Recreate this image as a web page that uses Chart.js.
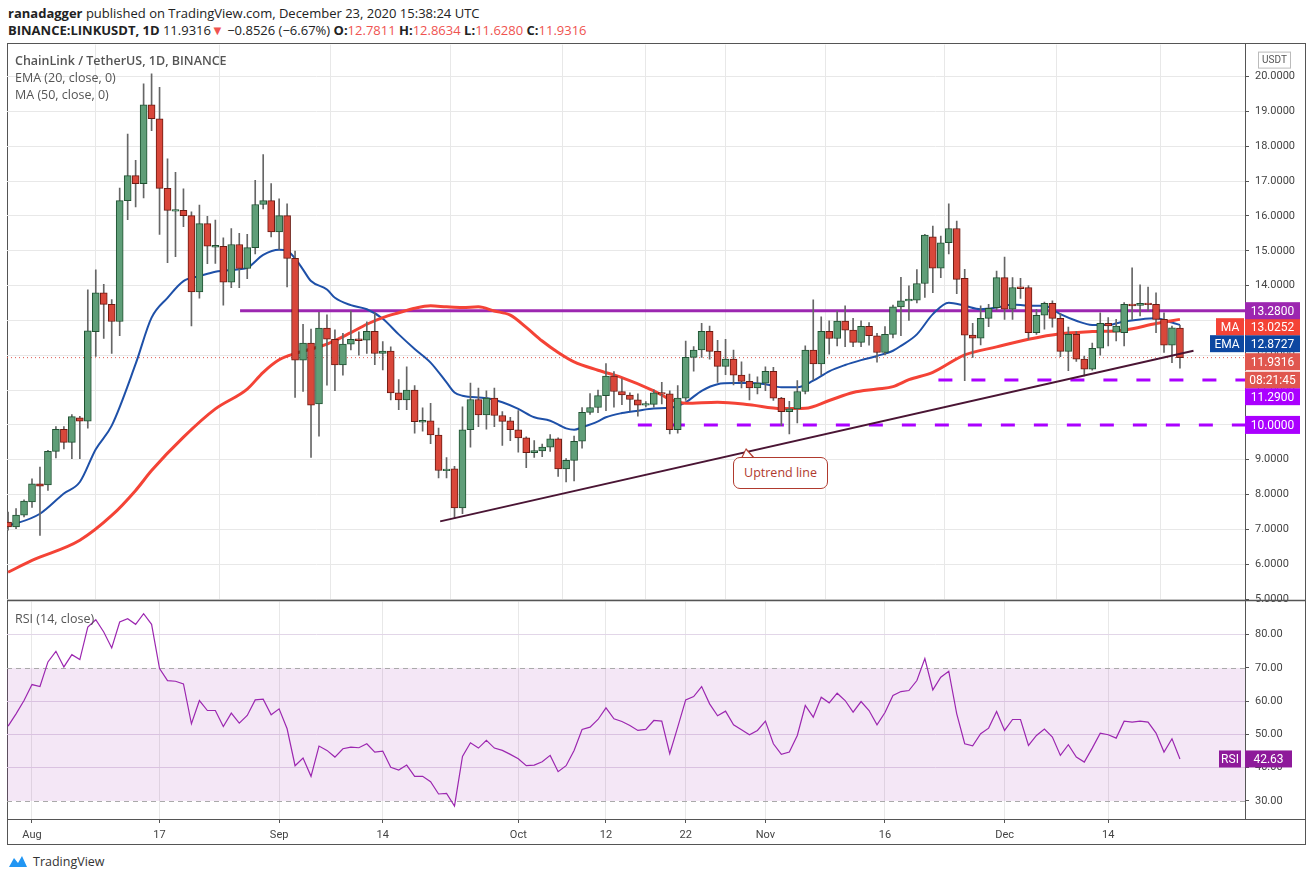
<!DOCTYPE html>
<html>
<head>
<meta charset="utf-8">
<script src="https://cdn.jsdelivr.net/npm/chart.js@4.4.0/dist/chart.umd.min.js"></script>
<style>
  body { margin:0; background:#fff; font-family:"Open Sans", Arial, sans-serif; width:1311px; height:881px; position:relative; overflow:hidden; }
  .hdr1 { position:absolute; left:8px; top:4px; font-size:13px; color:#222; }
  .hdr2 { position:absolute; left:8px; top:21px; font-size:13px; color:#222; }
  .red { color:#ef5350; }
  .frame { position:absolute; left:7px; top:43px; width:1297px; height:800px; border:1px solid #555; box-sizing:content-box; }
  canvas { position:absolute; }
  .leg { position:absolute; left:15px; font-size:12.5px; color:#555; }
  .callout { position:absolute; left:733px; top:457px; width:93px; height:30px; border:1px solid #b03a2e; border-radius:7px; color:#b03a2e; font-size:12.5px; text-align:center; line-height:30px; background:#fff; }
  .notch { position:absolute; left:741px; top:448px; width:0; height:0; border-left:5px solid transparent; border-right:9px solid transparent; border-bottom:10px solid #b03a2e; }
  .notch2 { position:absolute; left:742px; top:450px; width:0; height:0; border-left:4px solid transparent; border-right:8px solid transparent; border-bottom:9px solid #fff; }
  .tv { position:absolute; left:33px; top:853px; font-size:12.5px; color:#333; }
  .tvicon { position:absolute; left:8px; top:854px; width:20px; height:14px; }
</style>
</head>
<body>
<div class="hdr1"><b>ranadagger</b> published on TradingView.com, December 23, 2020 15:38:24 UTC</div>
<div class="hdr2"><b>BINANCE:LINKUSDT, 1D</b> 11.9316<span class="red">&#9660;</span> &minus;0.8526 (&minus;6.67%) <b>O:</b><span class="red">12.7811</span> <b>H:</b><span class="red">12.8634</span> <b>L:</b><span class="red">11.6280</span> <b>C:</b><span class="red">11.9316</span></div>
<div class="frame"></div>
<canvas id="price" width="1298" height="580" style="left:7px;top:32px"></canvas>
<canvas id="rsi" width="1298" height="255" style="left:7px;top:589px"></canvas>
<div class="leg" style="top:52px;font-weight:600">ChainLink / TetherUS, 1D, BINANCE</div>
<div class="leg" style="top:69px">EMA (20, close, 0)</div>
<div class="leg" style="top:86px">MA (50, close, 0)</div>
<div class="leg" style="top:610px">RSI (14, close)</div>
<div class="notch"></div><div class="notch2"></div>
<div class="callout">Uptrend line</div>
<svg class="tvicon" viewBox="0 0 20 14"><path d="M1 13 L6 4 L10 9 L14 2 L19 13 Z" fill="#2196f3"/></svg>
<div class="tv">TradingView</div>
<script>
// ---- Data (days counted from Aug 1, 2020) ----
const firstDay = -3;
const openP = [7.21,7.07,7.41,7.79,8.31,8.28,9.24,9.87,9.50,10.20,10.11,12.68,13.79,13.46,12.97,16.44,17.16,16.93,19.19,18.79,16.79,16.16,16.16,16.01,13.82,15.78,15.13,15.13,14.10,15.18,14.49,15.09,16.33,16.44,15.54,16.01,14.78,11.86,12.35,10.60,12.78,12.46,11.72,12.32,12.46,12.43,12.69,12.05,12.12,10.92,10.72,11.00,10.10,10.12,9.71,8.71,8.74,7.62,9.86,10.73,10.29,10.77,10.27,10.12,9.86,9.63,9.20,9.25,9.36,9.60,8.74,8.98,9.53,10.36,10.50,10.84,11.40,10.96,10.86,10.72,10.59,10.59,10.92,10.89,9.86,10.77,11.94,12.15,12.69,12.11,11.68,11.89,11.43,11.25,11.06,11.20,11.54,10.77,10.38,10.46,10.96,12.15,11.75,12.69,12.48,12.98,12.72,12.37,12.83,12.56,12.08,12.60,13.39,13.56,13.58,14.06,15.40,14.50,15.23,15.64,14.21,12.58,12.49,13.06,13.37,14.23,13.32,13.95,13.94,12.65,13.15,13.49,13.06,12.11,12.60,11.89,11.60,12.20,12.92,12.66,12.65,13.46,13.43,13.49,13.46,13.03,12.29,12.78];
const highP = [7.50,7.60,7.85,8.45,8.79,9.27,9.95,9.95,10.30,10.25,13.88,14.45,14.04,13.60,16.80,18.35,17.60,19.79,20.08,19.69,17.64,17.25,16.78,16.12,16.31,15.99,15.88,15.37,15.64,15.50,15.47,17.02,17.76,16.93,16.49,16.35,14.99,12.89,12.75,13.23,13.16,12.73,12.63,13.27,12.67,12.96,13.22,12.39,12.24,11.30,11.67,11.13,10.49,10.62,9.91,9.06,8.81,10.52,11.20,11.06,10.98,11.06,10.38,10.22,10.41,9.66,9.55,9.45,9.72,9.63,9.03,9.68,10.50,10.90,11.00,11.76,11.53,11.32,10.92,10.89,10.67,11.01,11.22,10.98,11.13,12.41,12.25,12.92,12.84,12.43,12.46,12.15,11.81,11.46,11.38,11.67,11.65,10.79,10.68,11.27,12.27,13.59,13.10,12.99,13.27,13.42,13.06,12.99,12.94,12.63,12.82,13.44,14.24,13.99,14.46,15.47,15.71,15.42,16.35,15.85,14.47,12.92,13.42,13.46,14.42,14.82,14.23,14.21,14.00,13.32,13.53,13.56,13.20,12.81,12.68,11.98,12.35,13.22,13.08,13.03,13.51,14.51,14.02,13.96,13.79,13.22,12.84,12.86];
const lowP = [6.98,7.02,7.36,7.63,6.83,8.12,9.05,9.31,9.03,9.03,9.91,11.97,12.48,12.05,12.56,15.89,16.26,16.52,18.45,15.47,14.66,14.83,15.69,12.84,13.64,14.63,14.64,13.44,13.94,13.94,14.20,14.91,16.20,15.40,15.04,13.96,10.79,10.96,9.07,9.68,11.14,10.98,11.43,12.15,12.00,12.05,11.73,11.58,10.72,10.44,10.44,9.76,9.82,9.46,8.48,8.48,7.31,7.45,9.36,9.95,9.88,9.95,9.41,9.55,9.22,8.77,9.07,9.09,9.24,8.52,8.36,8.39,9.33,10.30,10.35,10.41,10.51,10.58,10.41,10.25,10.52,10.51,10.60,9.74,9.76,10.70,11.54,11.94,11.89,11.22,11.44,11.15,11.06,10.72,10.89,10.98,10.70,9.98,9.74,10.06,10.89,11.29,11.44,12.03,12.27,12.25,12.25,12.25,12.29,11.80,12.01,12.50,12.56,13.00,13.50,13.66,13.80,14.23,14.91,13.77,11.27,11.94,12.30,12.82,13.30,13.03,13.03,13.63,12.46,12.60,12.75,12.81,11.96,11.56,11.82,11.41,11.57,12.00,12.27,12.41,12.27,13.03,13.13,13.27,12.65,12.08,11.79,11.63];
const closeP = [7.07,7.41,7.81,8.31,8.24,9.24,9.87,9.50,10.24,10.11,12.70,13.79,13.46,12.97,16.44,17.16,16.93,19.19,18.79,16.79,16.16,16.16,16.01,13.82,15.78,15.13,15.13,14.10,15.18,14.49,15.09,16.33,16.44,15.54,16.01,14.78,11.86,12.35,10.57,12.78,12.46,11.72,12.32,12.46,12.43,12.69,12.05,12.12,10.92,10.72,11.00,10.09,10.11,9.71,8.69,8.71,7.62,9.86,10.73,10.29,10.77,10.27,10.10,9.86,9.63,9.20,9.26,9.36,9.60,8.74,8.98,9.53,10.36,10.50,10.84,11.40,10.96,10.86,10.73,10.57,10.59,10.92,10.89,9.86,10.77,11.94,12.15,12.69,12.11,11.68,11.89,11.43,11.25,11.06,11.20,11.54,10.77,10.38,10.46,10.96,12.15,11.75,12.69,12.48,12.98,12.72,12.37,12.83,12.56,12.08,12.60,13.39,13.56,13.61,14.06,15.45,14.50,15.23,15.64,14.18,12.58,12.49,13.06,13.35,14.23,13.32,13.94,13.93,12.65,13.15,13.49,13.06,12.11,12.60,11.89,11.60,12.20,12.92,12.84,12.84,13.46,13.43,13.49,13.46,13.03,12.29,12.79,11.93];

const emaDays = [-3,-2,1,4,6,8,10,13,15,17,19,21,23,26,27,29,31,32,33,34,35,37,38,40,42,44,46,48,50,52,53,54,57,59,61,63,65,67,68,69,71,72,74,76,78,80,82,84,86,88,90,92,94,96,98,100,102,104,106,108,109,111,113,115,117,119,121,123,125,127,129,131,133,135,137,139,141,143,144];
const emaValues = [7.12,7.17,7.45,8.03,8.36,9.3,9.98,11.75,13.08,13.65,14.13,14.27,14.4,14.47,14.51,14.88,15.03,15.0,14.78,14.46,14.13,13.89,13.65,13.44,13.32,13.05,12.6,12.18,11.79,11.22,10.93,10.84,10.77,10.65,10.46,10.22,10.12,9.9,9.86,9.93,10.1,10.22,10.34,10.41,10.47,10.49,10.65,10.98,11.17,11.2,11.2,11.17,11.08,11.08,11.27,11.54,11.72,11.86,11.98,12.13,12.27,12.6,13.18,13.51,13.42,13.32,13.37,13.46,13.42,13.42,13.18,12.99,12.87,12.87,12.97,13.03,13.06,12.94,12.87];
const maDays = [-3,0,6,10,13,15,19,23,27,29,31,33,35,37,40,42,44,46,48,50,52,54,56,58,60,62,64,66,68,71,74,78,80,82,86,90,94,97,100,103,106,108,110,113,117,121,125,129,133,137,141,144];
const maValues = [5.77,6.11,6.69,7.4,8.12,8.69,9.65,10.46,11.03,11.51,11.87,12.05,12.18,12.32,12.65,12.89,13.08,13.22,13.35,13.42,13.39,13.37,13.39,13.27,13.15,12.8,12.41,12.08,11.81,11.57,11.36,10.98,10.74,10.62,10.65,10.58,10.47,10.48,10.7,10.93,11.03,11.1,11.3,11.51,12.01,12.24,12.46,12.62,12.68,12.72,12.91,13.03];

const rsiValues = [52.5,56.2,60.2,65,64.4,71.8,75,70.3,74,72.5,82.3,84.5,80.8,76,83.8,84.8,83.1,86.3,83.1,69.8,66.2,66,65.2,53.2,60.2,57.2,57.2,52.4,56.4,53.4,55.7,60.4,60.6,55.9,57.7,51.7,40.6,42.9,37.4,46.5,45.2,43.2,45.7,46.2,46,47.2,44.7,45,40.1,39.3,40.8,37.4,37.4,35.8,32.1,32.3,28.5,43.4,47.5,45.9,48.2,45.9,45.2,44,42.7,40.6,40.8,41.8,43.7,38.8,40.6,45.2,51.5,52.2,54.5,58,54.7,53.9,52.7,51.2,51.5,54.2,54,44.2,52.2,60.4,61.4,64.4,59.2,55.6,57,52.9,51.4,49.9,51.2,54,47.2,44,44.7,49.7,58.7,55.2,61.2,59.5,62.4,60.2,56.7,59.9,57.2,52.9,56.6,61.7,62.9,63.2,66.2,72.8,63.4,67.2,69,56.2,47.2,46.6,50.2,51.9,56.9,51.2,54.5,54.5,46.7,49.7,51.6,49.2,43.7,46.9,43.2,41.7,45.9,50.4,49.9,48.9,54,53.7,54,53.7,50.4,44.7,48.7,42.6];

const tickDays = [0,16,31,44,61,72,82,92,107,122,135];
const tickLabels = ["Aug","17","Sep","14","Oct","12","22","Nov","16","Dec","14"];

// drawn levels
const resistance = 13.28;
const supportLevels = [11.29, 10.0];
const supportStart = [113.7, 76];
const trendStart = [51.2, 7.23];
const trendEnd = [145.7, 12.13];
const lastPrice = 11.9316;
const lastMA = 13.0252;
const lastEMA = 12.8727;
const countdown = "08:21:45";
const lastRSI = 42.63;

// ---- Helpers ----
const X_MIN = -3.136, X_MAX = 152.16;
const days = openP.map((_, i) => firstDay + i);
const isUp = days.map((_, i) => closeP[i] >= openP[i]);
const bodyData = days.map((d, i) => {
  let a = Math.min(openP[i], closeP[i]), b = Math.max(openP[i], closeP[i]);
  if (b - a < 0.05) { const m = (a + b) / 2; a = m - 0.025; b = m + 0.025; }
  return { x: d, y: [a, b] };
});
const wickData = days.map((d, i) => ({ x: d, y: [lowP[i], highP[i]] }));
const pts = (xs, ys) => xs.map((x, i) => ({ x: x, y: ys[i] }));

const fixY = s => { s.width = 60; };
const xTicks = s => { s.ticks = tickDays.map(v => ({ value: v })); };

function box(ctx, x, y, w, h, bg, text, color) {
  ctx.fillStyle = bg;
  ctx.fillRect(x, y - h / 2, w, h);
  ctx.fillStyle = color || "#fff";
  ctx.font = "12px Roboto, sans-serif";
  ctx.textAlign = "center";
  ctx.textBaseline = "middle";
  ctx.fillText(text, x + w / 2, y + 1);
}

// ---- Price labels on right axis (stacked so they don't overlap) ----
const priceLabels = {
  id: "priceLabels",
  afterDraw(chart) {
    const ctx = chart.ctx, y = chart.scales.y, x0 = chart.chartArea.right, top = chart.chartArea.top;
    const r = y.getPixelForValue(resistance);
    ctx.save();
    box(ctx, x0, y.getPixelForValue(supportLevels[1]), 55, 18, "#aa00ff", supportLevels[1].toFixed(4));
    box(ctx, x0, r + 86, 55, 17, "#aa00ff", supportLevels[0].toFixed(4));
    box(ctx, x0, r + 69, 55, 17, "#e0574f", countdown);
    ctx.fillStyle = "#fff"; ctx.fillRect(x0, r + 60, 55, 1);
    box(ctx, x0, r + 51, 55, 17, "#e0574f", lastPrice.toFixed(4));
    box(ctx, x0 - 35, r + 33, 34, 17, "#0d47a1", "EMA");
    box(ctx, x0, r + 33, 55, 17, "#0d47a1", lastEMA.toFixed(4));
    box(ctx, x0 - 29, r + 16, 28, 17, "#f44336", "MA");
    box(ctx, x0, r + 16, 55, 17, "#f44336", lastMA.toFixed(4));
    box(ctx, x0, r, 55, 17, "#9c27b0", resistance.toFixed(4));
    ctx.strokeStyle = "#bbb"; ctx.lineWidth = 1;
    ctx.strokeRect(x0 + 13.5, top + 7.5, 32, 16);
    ctx.fillStyle = "#555"; ctx.font = "10px Roboto, sans-serif"; ctx.textAlign = "center";
    ctx.fillText("USDT", x0 + 29.5, top + 16);
    ctx.restore();
  }
};

new Chart(document.getElementById("price"), {
  type: "bar",
  data: {
    datasets: [
      { type: "line", data: [{ x: X_MIN, y: lastPrice }, { x: X_MAX, y: lastPrice }], borderColor: "#e0574f", borderWidth: 1, borderDash: [1, 3], pointRadius: 0, order: 9 },
      { type: "line", data: [{ x: 26.1, y: resistance }, { x: X_MAX, y: resistance }], borderColor: "#9c27b0", borderWidth: 3, pointRadius: 0, order: 8 },
      { type: "line", data: [{ x: supportStart[0], y: supportLevels[0] }, { x: X_MAX, y: supportLevels[0] }], borderColor: "#aa00ff", borderWidth: 3, borderDash: [14, 19], pointRadius: 0, order: 8 },
      { type: "line", data: [{ x: supportStart[1], y: supportLevels[1] }, { x: X_MAX, y: supportLevels[1] }], borderColor: "#aa00ff", borderWidth: 3, borderDash: [14, 19], pointRadius: 0, order: 8 },
      { type: "line", data: [{ x: trendStart[0], y: trendStart[1] }, { x: trendEnd[0], y: trendEnd[1] }], borderColor: "#4a1534", borderWidth: 2, pointRadius: 0, order: 1 },
      { type: "line", data: pts(maDays, maValues), borderColor: "#f44336", borderWidth: 3, pointRadius: 0, cubicInterpolationMode: "monotone", order: 5 },
      { type: "line", data: pts(emaDays, emaValues), borderColor: "#1e50a8", borderWidth: 2, pointRadius: 0, cubicInterpolationMode: "monotone", order: 5 },
      { data: wickData, backgroundColor: "#666", barThickness: 1, grouped: false, order: 3 },
      { data: bodyData, backgroundColor: isUp.map(u => u ? "#5f9e78" : "#d9473a"), borderColor: isUp.map(u => u ? "#1f5131" : "#6b1a12"), borderWidth: 1, borderSkipped: false, barThickness: 7, grouped: false, order: 2 }
    ]
  },
  options: {
    responsive: false, animation: false, devicePixelRatio: 1,
    layout: { padding: 0 },
    plugins: { legend: { display: false }, tooltip: { enabled: false } },
    scales: {
      x: { type: "linear", min: X_MIN, max: X_MAX, offset: false, afterBuildTicks: xTicks, afterFit: s => { s.height = 0; },
           ticks: { display: false }, grid: { color: "#e8e8e8", drawTicks: false }, border: { display: false } },
      y: { position: "right", min: 4.99, max: 20.92, afterFit: fixY,
           afterBuildTicks: s => { s.ticks = []; for (let v = 5; v <= 20; v++) s.ticks.push({ value: v }); },
           ticks: { color: "#444", font: { family: "Roboto", size: 11 }, padding: 6, callback: v => v.toFixed(4) },
           grid: { color: "#e8e8e8", drawTicks: true, tickLength: 4, tickColor: "#555" }, border: { color: "#555" } }
    }
  },
  plugins: [priceLabels]
});

// ---- RSI panel ----
const rsiBand = {
  id: "rsiBand",
  beforeDatasetsDraw(chart) {
    const ctx = chart.ctx, y = chart.scales.y, a = chart.chartArea;
    const y70 = y.getPixelForValue(70), y30 = y.getPixelForValue(30);
    ctx.save();
    ctx.fillStyle = "rgba(156,39,176,0.11)";
    ctx.fillRect(a.left, y70, a.right - a.left, y30 - y70);
    ctx.strokeStyle = "#aaa"; ctx.setLineDash([5, 4]); ctx.lineWidth = 1;
    [y70, y30].forEach(p => { ctx.beginPath(); ctx.moveTo(a.left, Math.round(p) + 0.5); ctx.lineTo(a.right, Math.round(p) + 0.5); ctx.stroke(); });
    ctx.restore();
  },
  afterDraw(chart) {
    const ctx = chart.ctx, y = chart.scales.y, a = chart.chartArea, x0 = a.right;
    const p = y.getPixelForValue(lastRSI);
    ctx.save();
    ctx.strokeStyle = "#555"; ctx.lineWidth = 1.5;
    ctx.beginPath(); ctx.moveTo(0, a.top - 1); ctx.lineTo(chart.width, a.top - 1); ctx.stroke();
    ctx.lineWidth = 1;
    ctx.beginPath(); ctx.moveTo(0, a.bottom + 0.5); ctx.lineTo(chart.width, a.bottom + 0.5); ctx.stroke();
    box(ctx, x0 - 26, p, 22, 17, "#8e1a9a", "RSI");
    box(ctx, x0, p, 47, 17, "#8e1a9a", lastRSI.toFixed(2));
    ctx.restore();
  }
};

new Chart(document.getElementById("rsi"), {
  type: "line",
  data: { datasets: [{ data: pts(days, rsiValues), borderColor: "#9c27b0", borderWidth: 1.2, pointRadius: 0, tension: 0 }] },
  options: {
    responsive: false, animation: false, devicePixelRatio: 1,
    layout: { padding: 0 },
    plugins: { legend: { display: false }, tooltip: { enabled: false } },
    scales: {
      x: { type: "linear", min: X_MIN, max: X_MAX, afterBuildTicks: xTicks, afterFit: s => { s.height = 25; },
           ticks: { color: "#444", font: { family: "Roboto", size: 11 }, padding: 6, maxRotation: 0, autoSkip: false,
                    callback: v => tickLabels[tickDays.indexOf(v)] },
           grid: { color: "#e8e8e8", tickLength: 4, tickColor: "#555" }, border: { color: "#555" } },
      y: { position: "right", min: 24.58, max: 89.94, afterFit: fixY,
           afterBuildTicks: s => { s.ticks = [30, 40, 50, 60, 70, 80].map(v => ({ value: v })); },
           ticks: { color: "#444", font: { family: "Roboto", size: 11 }, padding: 6, callback: v => v.toFixed(2) },
           grid: { color: c => (c.tick && (c.tick.value === 30 || c.tick.value === 70)) ? "rgba(0,0,0,0)" : "#e2d6e8", tickLength: 4, tickColor: "#555" },
           border: { color: "#555" } }
    }
  },
  plugins: [rsiBand]
});
</script>
</body>
</html>
